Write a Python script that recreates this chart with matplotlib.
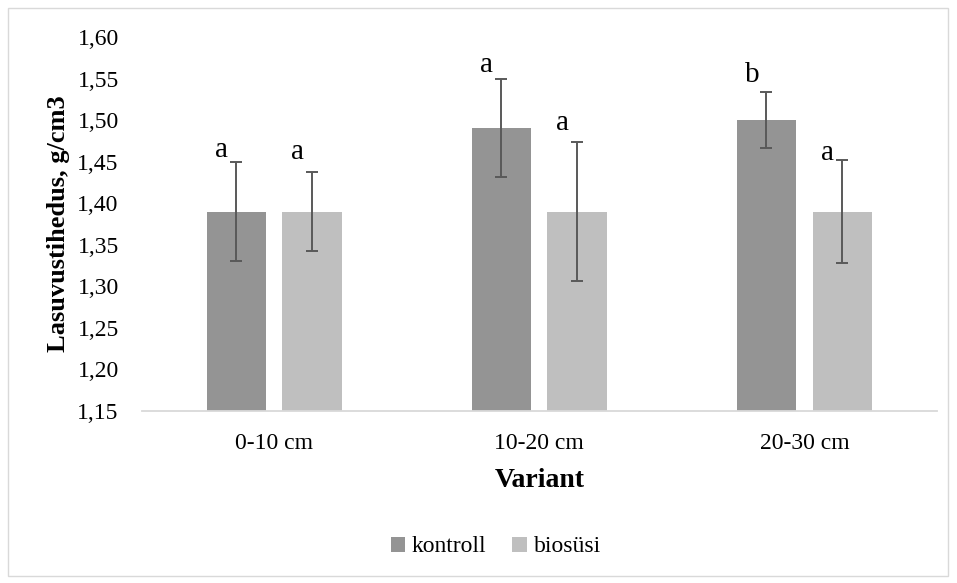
import matplotlib
matplotlib.use("Agg")
import matplotlib.pyplot as plt
import numpy as np
from matplotlib.patches import Rectangle

categories = ["0-10 cm", "10-20 cm", "20-30 cm"]
kontroll = [1.39, 1.49, 1.50]
kontroll_err = [0.060, 0.059, 0.034]
biosusi = [1.39, 1.39, 1.39]
biosusi_err = [0.047, 0.084, 0.062]
kontroll_letters = ["a", "a", "b"]
biosusi_letters = ["a", "a", "a"]
kontroll_letter_y = [1.464, 1.566, 1.554]
biosusi_letter_y = [1.462, 1.497, 1.460]
yticks = [1.15, 1.20, 1.25, 1.30, 1.35, 1.40, 1.45, 1.50, 1.55, 1.60]

plt.rcParams['font.family'] = ['Liberation Serif', 'DejaVu Serif']

fig = plt.figure(figsize=(9.57, 5.83), dpi=100)
ax = fig.add_axes([0.148, 0.295, 0.831, 0.6415])

x = np.arange(len(categories))
w = 0.224
off = 0.143
c1, c2 = "#949494", "#bfbfbf"
ecol = "#595959"
ax.bar(x - off, kontroll, w, color=c1, label="kontroll", zorder=2)
ax.bar(x + off, biosusi, w, color=c2, label="biosüsi", zorder=2)
ax.errorbar(x - off, kontroll, yerr=kontroll_err, fmt="none", ecolor=ecol,
            elinewidth=1.4, capsize=4.5, capthick=1.4, zorder=3)
ax.errorbar(x + off, biosusi, yerr=biosusi_err, fmt="none", ecolor=ecol,
            elinewidth=1.4, capsize=4.5, capthick=1.4, zorder=3)

for i in range(len(categories)):
    ax.text(x[i] - off - 0.055, kontroll_letter_y[i], kontroll_letters[i],
            ha="center", va="center", fontsize=21)
    ax.text(x[i] + off - 0.055, biosusi_letter_y[i], biosusi_letters[i],
            ha="center", va="center", fontsize=21)

ax.set_ylim(1.15, 1.60)
ax.set_xlim(-0.5, 2.5)
ax.set_yticks(yticks)
ax.set_yticklabels([f"{v:.2f}".replace(".", ",") for v in yticks])
ax.set_xticks(x)
ax.set_xticklabels(categories)
ax.tick_params(axis="both", length=0, labelsize=17, labelcolor="#000000")
ax.tick_params(axis="y", pad=16.5)
ax.tick_params(axis="x", pad=16)
for s in ["top", "right", "left"]:
    ax.spines[s].set_visible(False)
ax.spines["bottom"].set_color("#d9d9d9")
ax.spines["bottom"].set_linewidth(1.3)

ax.set_ylabel("Lasuvustihedus, g/cm3", fontsize=19, fontweight="bold", labelpad=5)
ax.set_xlabel("Variant", fontsize=20, fontweight="bold", labelpad=10)

leg = fig.legend(loc="center", bbox_to_anchor=(0.518, 0.062), ncol=2, frameon=False,
                 fontsize=17, handlelength=0.6, handleheight=0.6, handletextpad=0.3,
                 columnspacing=1.1)

fig.patches.append(Rectangle((0.008, 0.012), 0.983, 0.975, transform=fig.transFigure,
                             fill=False, edgecolor="#d9d9d9", linewidth=1.0))

fig.savefig("out.png", dpi=100, facecolor="white")
